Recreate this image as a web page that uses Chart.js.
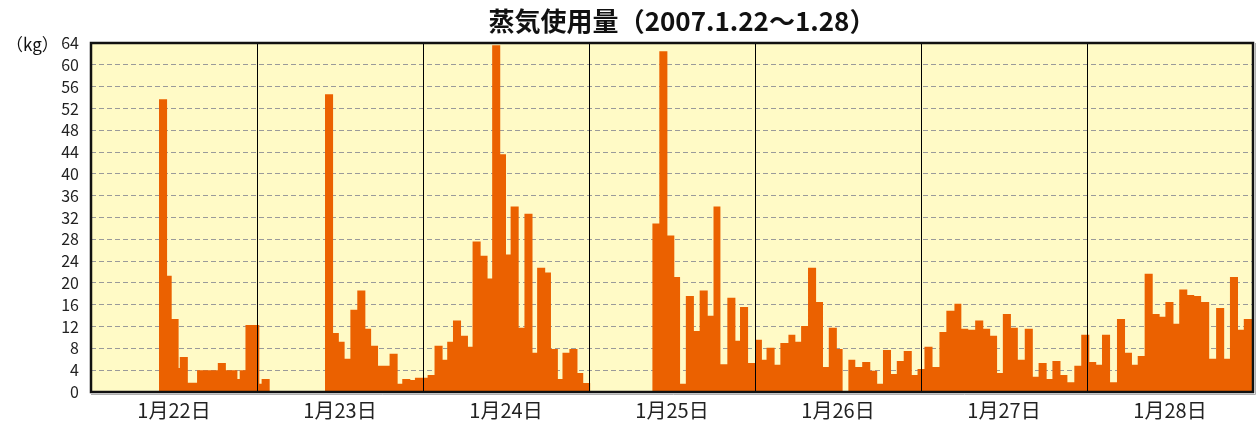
<!DOCTYPE html>
<html>
<head>
<meta charset="utf-8">
<script src="https://cdn.jsdelivr.net/npm/chart.js@4/dist/chart.umd.min.js"></script>
<style>
    html, body { margin: 0; padding: 0; background: #fff; }
    #wrap { width: 1257px; height: 421px; }
</style>
</head>
<body>
<div id="wrap"><canvas id="steamChart"></canvas></div>
<script>
// minutes from 1/22 0:00 where each reading starts
const stepMinutes = [
    0, 590, 660, 700, 760, 770, 840, 920, 1100, 1170, 1270, 1290, 1340,
    1460, 1480, 1550, 2030, 2100, 2150, 2200, 2250, 2310, 2380, 2430, 2490, 2590, 2660, 2700, 2770, 2810,
    2920, 2980, 3050, 3090, 3140, 3210, 3270, 3310, 3380, 3440, 3480, 3550, 3600, 3640, 3710, 3760, 3830, 3870, 3940, 3990, 4050, 4090, 4150, 4220, 4270, 4330,
    4870, 4930, 5000, 5060, 5110, 5160, 5230, 5280, 5350, 5400, 5460, 5520, 5590, 5630, 5700,
    5760, 5820, 5860, 5930, 5980, 6050, 6110, 6160, 6220, 6290, 6350, 6400, 6470, 6520, 6570, 6630, 6690, 6760, 6820, 6870, 6940, 6990, 7050, 7120, 7170,
    7230, 7300, 7360, 7420, 7490, 7550, 7610, 7670, 7740, 7800, 7860, 7910, 7980, 8040, 8100, 8170, 8220, 8290, 8340, 8410, 8470, 8530, 8590,
    8660, 8720, 8770, 8840, 8900, 8970, 9030, 9080, 9140, 9210, 9270, 9320, 9390, 9440, 9510, 9570, 9630, 9700, 9760, 9830, 9880, 9950, 10000, 10080
];

// steam used (kg)
const steamKg = [
    0, 53.7, 21.3, 13.4, 4.4, 6.4, 1.7, 4.0, 5.3, 4.0, 2.4, 4.0, 12.3,
    1.5, 2.4, 0, 54.6, 10.8, 9.2, 6.1, 15.1, 18.6, 11.6, 8.5, 4.8, 7.0, 1.5, 2.4, 2.2, 2.6,
    3.1, 8.5, 5.9, 9.2, 13.1, 10.3, 8.3, 27.6, 25.0, 20.8, 63.6, 43.6, 25.2, 34.0, 11.8, 32.7, 7.2, 22.8, 21.9, 7.9, 2.4, 7.2, 7.9, 3.5, 1.65, 0,
    30.9, 62.5, 28.7, 21.1, 1.5, 17.6, 11.2, 18.6, 14.0, 34.0, 5.1, 17.3, 9.4, 15.6, 5.3,
    9.6, 5.9, 8.1, 5.0, 9.0, 10.5, 9.2, 12.1, 22.8, 16.5, 4.6, 11.8, 7.9, 0, 5.9, 4.6, 5.5, 3.9, 1.5, 7.7, 3.3, 5.7, 7.5, 3.1, 4.2,
    8.3, 4.6, 11.0, 14.9, 16.2, 11.6, 11.4, 13.1, 11.6, 10.3, 3.5, 14.3, 11.8, 5.9, 11.6, 2.8, 5.3, 2.4, 5.7, 3.1, 1.8, 4.8, 10.5,
    5.5, 5.0, 10.5, 1.8, 13.4, 7.2, 5.0, 6.6, 21.7, 14.3, 13.8, 16.5, 12.5, 18.8, 17.8, 17.6, 16.5, 6.1, 15.4, 6.1, 21.1, 11.4, 13.4, 13.4
];

const dayLabels = ['1月22日', '1月23日', '1月24日', '1月25日', '1月26日', '1月27日', '1月28日'];
const yTicks = [0, 4, 8, 12, 16, 20, 24, 28, 32, 36, 40, 44, 48, 52, 56, 60, 64];

const DAY = 1440;
const FONT = '"Noto Sans CJK JP", "Noto Sans", sans-serif';

const frame = {
    id: 'frame',
    beforeDraw(chart) {
        const { ctx, chartArea: a } = chart;
        ctx.save();
        ctx.fillStyle = '#fffac6';
        ctx.fillRect(a.left, a.top, a.right - a.left, a.bottom - a.top);
        ctx.restore();
    },
    afterDatasetsDraw(chart) {
        const { ctx, chartArea: a, scales } = chart;
        ctx.save();
        // day dividers
        ctx.strokeStyle = '#000';
        ctx.lineWidth = 1;
        for (let d = 1; d < dayLabels.length; d++) {
            const x = Math.round(scales.x.getPixelForValue(d * DAY)) + 0.5;
            ctx.beginPath();
            ctx.moveTo(x, a.top);
            ctx.lineTo(x, a.bottom);
            ctx.stroke();
        }
        // light shadow then heavy frame
        ctx.strokeStyle = '#b0b0b0';
        ctx.beginPath();
        ctx.moveTo(a.right + 2.5, a.top);
        ctx.lineTo(a.right + 2.5, a.bottom + 2.5);
        ctx.lineTo(a.left, a.bottom + 2.5);
        ctx.stroke();
        ctx.strokeStyle = '#111';
        ctx.lineWidth = 2.5;
        ctx.strokeRect(a.left, a.top, a.right - a.left, a.bottom - a.top);

        // title and unit
        ctx.fillStyle = '#111';
        ctx.textBaseline = 'middle';
        ctx.textAlign = 'center';
        ctx.font = 'bold 26px ' + FONT;
        ctx.fillText('蒸気使用量（2007.1.22～1.28）', (a.left + a.right) / 2 + 10, 21);
        ctx.textAlign = 'left';
        ctx.font = '17px ' + FONT;
        ctx.fillText('（kg）', 6, 45);
        ctx.restore();
    }
};

const ctx = document.getElementById('steamChart').getContext('2d');

new Chart(ctx, {
    type: 'line',
    data: {
        datasets: [{
            data: stepMinutes.map((t, i) => ({ x: t, y: steamKg[i] })),
            stepped: true,
            fill: 'origin',
            backgroundColor: '#eb6100',
            borderColor: 'transparent',
            borderWidth: 0,
            pointRadius: 0
        }]
    },
    options: {
        responsive: true,
        maintainAspectRatio: false,
        animation: false,
        layout: {
            padding: { top: 43, right: 4, bottom: 0, left: 0 }
        },
        plugins: {
            legend: { display: false },
            tooltip: { enabled: false }
        },
        scales: {
            x: {
                type: 'linear',
                min: 0,
                max: DAY * dayLabels.length,
                afterBuildTicks: scale => {
                    scale.ticks = dayLabels.map((_, i) => ({ value: i * DAY + DAY / 2 }));
                },
                afterFit: scale => { scale.height = 29; },
                grid: { display: false },
                border: { display: false },
                ticks: {
                    autoSkip: false,
                    maxRotation: 0,
                    padding: 0,
                    color: '#222',
                    font: { family: FONT, size: 20, lineHeight: 1 },
                    callback: value => dayLabels[Math.floor(value / DAY)]
                }
            },
            y: {
                min: 0,
                max: 64,
                afterBuildTicks: scale => {
                    scale.ticks = yTicks.map(v => ({ value: v }));
                },
                afterFit: scale => { scale.width = 91; },
                grid: {
                    drawTicks: false,
                    color: c => (c.tick && (c.tick.value === 0 || c.tick.value === 64)) ? 'transparent' : '#9a9a9a',
                    lineWidth: 1
                },
                border: { display: false, dash: [5, 3] },
                ticks: {
                    autoSkip: false,
                    padding: 12,
                    color: '#222',
                    font: { family: FONT, size: 16, lineHeight: 1 }
                }
            }
        }
    },
    plugins: [frame]
});
</script>
</body>
</html>
